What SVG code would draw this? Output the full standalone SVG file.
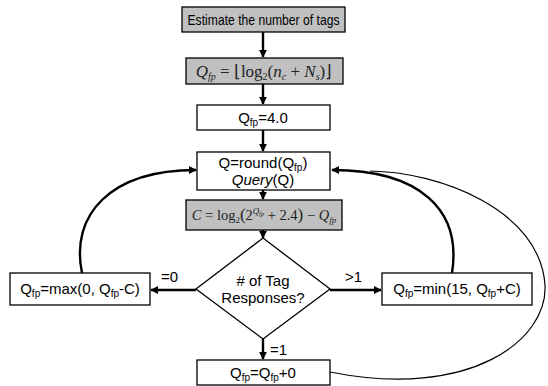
<svg xmlns="http://www.w3.org/2000/svg" width="548" height="386" viewBox="0 0 548 386">
<defs>
<marker id="ah" viewBox="0 0 10 10" refX="9" refY="5" markerWidth="8" markerHeight="8" markerUnits="userSpaceOnUse" orient="auto">
<path d="M0,0 L10,5 L0,10 Z" fill="#000"/>
</marker>
<style>
.box{stroke:#000;stroke-width:1.3;fill:#fff}
.gray{fill:#c0c0c0}
.t{font-family:"Liberation Sans",Arial,sans-serif;font-size:15px;fill:#000;text-anchor:middle}
.f{font-family:"Liberation Serif","Times New Roman",serif;font-size:17px;fill:#222;text-anchor:middle}
.c{stroke:#000;stroke-width:2.4;fill:none}
.thin{stroke:#000;stroke-width:1.2;fill:none}
.lbl{font-family:"Liberation Sans",Arial,sans-serif;font-size:15px;fill:#000}
</style>
</defs>
<g id="connectors">
<line class="c" x1="263" y1="32" x2="263" y2="57" marker-end="url(#ah)"/>
<line class="c" x1="263" y1="84" x2="263" y2="104" marker-end="url(#ah)"/>
<line class="c" x1="263" y1="130" x2="263" y2="151" marker-end="url(#ah)"/>
<line class="c" x1="263" y1="190" x2="263" y2="199" marker-end="url(#ah)"/>
<line class="c" x1="263" y1="230" x2="263" y2="238" marker-end="url(#ah)"/>
<line class="c" x1="196" y1="290" x2="151" y2="290" marker-end="url(#ah)"/>
<line class="c" x1="330" y1="290" x2="381" y2="290" marker-end="url(#ah)"/>
<line class="c" x1="263" y1="339" x2="263" y2="359" marker-end="url(#ah)"/>
<path class="c" d="M82,273 C70,215 110,170 196,170" marker-end="url(#ah)"/>
<path class="c" d="M452,273 C462,210 420,170 332,170" marker-end="url(#ah)"/>
<path class="thin" d="M330,372 C470,400 548,340 545,285 C540,210 440,172 370,171"/>
<text class="lbl" x="161" y="282">=0</text>
<text class="lbl" x="345" y="282">&gt;1</text>
<text class="lbl" x="270" y="355">=1</text>
</g>
<g id="estimate">
<rect class="box gray" x="182" y="7" width="163" height="25"/>
<text class="t" x="263.5" y="25" style="font-size:14.5px" textLength="152" lengthAdjust="spacingAndGlyphs">Estimate the number of tags</text>
</g>
<g id="formula1">
<rect class="box gray" x="186" y="58" width="157" height="26"/>
<text class="f" x="264" y="76.5"><tspan font-style="italic">Q</tspan><tspan font-style="italic" font-size="10" dy="3">fp</tspan><tspan dy="-3"> = ⌊log</tspan><tspan font-size="10" dy="3">2</tspan><tspan dy="-3">(</tspan><tspan font-style="italic">n</tspan><tspan font-style="italic" font-size="10" dy="3">c</tspan><tspan dy="-3"> + </tspan><tspan font-style="italic">N</tspan><tspan font-style="italic" font-size="10" dy="3">s</tspan><tspan dy="-3">)⌋</tspan></text>
</g>
<g id="init">
<rect class="box" x="197" y="105" width="133" height="25"/>
<text class="t" x="263" y="123">Q<tspan font-size="10" dy="3">fp</tspan><tspan dy="-3">=4.0</tspan></text>
</g>
<g id="query">
<rect class="box" x="197" y="152" width="133" height="38"/>
<text class="t" x="263" y="168">Q=round(Q<tspan font-size="10" dy="3">fp</tspan><tspan dy="-3">)</tspan></text>
<text class="t" x="263" y="185"><tspan font-style="italic">Query</tspan>(Q)</text>
</g>
<g id="formula2">
<rect class="box gray" x="186" y="200" width="156" height="30"/>
<text class="f" x="264" y="220" style="font-size:14.5px"><tspan font-style="italic">C</tspan> = log<tspan font-size="9" dy="3">2</tspan><tspan dy="-3" font-size="17">(</tspan><tspan>2</tspan><tspan font-style="italic" font-size="9" dy="-6">Q</tspan><tspan font-style="italic" font-size="6" dy="2">fp</tspan><tspan dy="4"> + 2.4</tspan><tspan font-size="17">)</tspan><tspan> − </tspan><tspan font-style="italic">Q</tspan><tspan font-style="italic" font-size="9" dy="3">fp</tspan></text>
</g>
<g id="decision">
<polygon class="box" points="263,238 330,289 263,339 196,289"/>
<text class="t" x="263" y="286"># of Tag</text>
<text class="t" x="263" y="303">Responses?</text>
</g>
<g id="zero">
<rect class="box" x="10" y="273" width="140" height="32"/>
<text class="t" x="80" y="294">Q<tspan font-size="10" dy="3">fp</tspan><tspan dy="-3">=max(0, Q</tspan><tspan font-size="10" dy="3">fp</tspan><tspan dy="-3">-C)</tspan></text>
</g>
<g id="many">
<rect class="box" x="382" y="273" width="150" height="32"/>
<text class="t" x="457" y="294">Q<tspan font-size="10" dy="3">fp</tspan><tspan dy="-3">=min(15, Q</tspan><tspan font-size="10" dy="3">fp</tspan><tspan dy="-3">+C)</tspan></text>
</g>
<g id="one">
<rect class="box" x="197" y="360" width="133" height="25"/>
<text class="t" x="263" y="378">Q<tspan font-size="10" dy="3">fp</tspan><tspan dy="-3">=Q</tspan><tspan font-size="10" dy="3">fp</tspan><tspan dy="-3">+0</tspan></text>
</g>
</svg>
